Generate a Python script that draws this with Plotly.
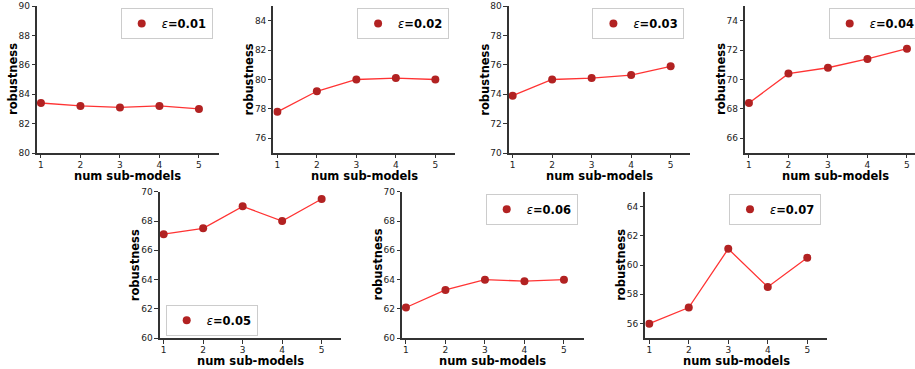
import plotly.graph_objects as go

W, H = 915, 369

num_models = [1, 2, 3, 4, 5]
eps_labels = ["0.01", "0.02", "0.03", "0.04", "0.05", "0.06", "0.07"]
rob_001 = [83.4, 83.2, 83.1, 83.2, 83.0]
rob_002 = [77.8, 79.2, 80.0, 80.1, 80.0]
rob_003 = [73.9, 75.0, 75.1, 75.3, 75.9]
rob_004 = [68.4, 70.4, 70.8, 71.4, 72.1]
rob_005 = [67.1, 67.5, 69.0, 68.0, 69.5]
rob_006 = [62.1, 63.3, 64.0, 63.9, 64.0]
rob_007 = [56.0, 57.1, 61.1, 58.5, 60.5]
series = [rob_001, rob_002, rob_003, rob_004, rob_005, rob_006, rob_007]
y_ranges = [[80, 90], [75, 85], [70, 80], [65, 75], [60, 70], [60, 70], [55, 65]]
x_title = "num sub-models"
y_title = "robustness"

# layout (pixel positions)
px_per_unit = 39.5
x_left = [37.0, 273.4, 508.7, 745.0, 159.7, 402.0, 645.3]
row_of = [0, 0, 0, 0, 1, 1, 1]
row_y = [(6.0, 153.0), (191.7, 338.3)]
xr = [0.9, 5.5]
plot_w = (xr[1] - xr[0]) * px_per_unit

FONT = "DejaVu Sans"
AX = "#333333"

fig = go.Figure()
layout = dict(
    width=W, height=H,
    margin=dict(l=0, r=0, t=0, b=0, autoexpand=False),
    paper_bgcolor="white", plot_bgcolor="white",
    font=dict(family=FONT, color="#222222"),
)
annotations = []

for i, ys in enumerate(series):
    n = "" if i == 0 else str(i + 1)
    x0 = x_left[i]
    x1_full = x0 + plot_w
    x1 = x1_full
    rng = list(xr)
    if x1 > W:
        rng = [xr[0], xr[0] + (W - x0) / px_per_unit]
        x1 = W
    top, bot = row_y[row_of[i]]
    leg = "legend" + n
    fig.add_trace(go.Scatter(
        x=num_models, y=ys, mode="lines",
        line=dict(color="rgba(255,0,0,0.8)", width=1.3),
        showlegend=False, hoverinfo="skip",
        xaxis="x" + n, yaxis="y" + n,
    ))
    fig.add_trace(go.Scatter(
        x=num_models, y=ys, mode="markers",
        marker=dict(color="#b22222", size=8),
        name="<i>ε</i><b>=" + eps_labels[i] + "</b>",
        legend=leg, showlegend=True,
        xaxis="x" + n, yaxis="y" + n,
    ))
    common = dict(
        showline=True, linecolor=AX, linewidth=1.5, mirror=False,
        showgrid=False, zeroline=False,
        ticks="outside", ticklen=3.5, tickwidth=1, tickcolor=AX,
        tickfont=dict(family=FONT, size=9, color="#222222"),
    )
    layout["xaxis" + n] = dict(
        common, domain=[x0 / W, x1 / W], range=rng,
        anchor="y" + n, tickmode="array", tickvals=num_models,
        ticklabelstandoff=-1,
    )
    layout["yaxis" + n] = dict(
        common, domain=[1 - bot / H, 1 - top / H], range=y_ranges[i],
        anchor="x" + n, tick0=0, dtick=2,
    )
    title_font = dict(family=FONT, size=11.5, weight="bold", color="black")
    annotations.append(dict(
        text=x_title, xref="paper", yref="paper",
        x=(x0 + x1_full) / 2 / W, y=1 - (bot + 23.0) / H,
        xanchor="center", yanchor="middle", showarrow=False, font=title_font,
        borderpad=0,
    ))
    annotations.append(dict(
        text=y_title, xref="paper", yref="paper", textangle=-90,
        x=(x0 - 24.5) / W, y=1 - (top + bot) / 2 / H,
        xanchor="center", yanchor="middle", showarrow=False, font=title_font,
        borderpad=0,
    ))
    legend_box = dict(
        bgcolor="white", bordercolor="#cccccc", borderwidth=1,
        font=dict(family=FONT, size=11.5, color="black"),
        xref="paper", yref="paper", itemwidth=30,
    )
    if i == 4:
        legend_box.update(x=(x0 + 6) / W, xanchor="left",
                          y=1 - (bot - 2.5) / H, yanchor="bottom")
    else:
        legend_box.update(x=(x1_full - 6) / W, xanchor="right",
                          y=1 - (top + 2) / H, yanchor="top")
    layout[leg] = legend_box

layout["annotations"] = annotations
fig.update_layout(**layout)
fig.write_html("out.html")
